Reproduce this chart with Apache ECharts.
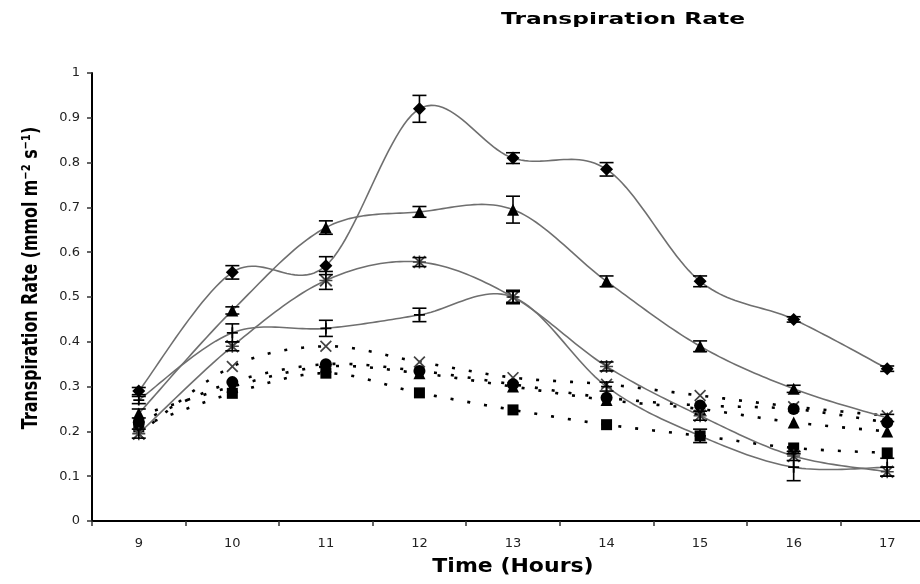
<!DOCTYPE html>
<html>
<head>
<meta charset="utf-8">
<script src="https://cdn.jsdelivr.net/npm/echarts@6/dist/echarts.min.js"></script>
<style>html,body{margin:0;padding:0;background:#fff;overflow:hidden}#c{width:934px;height:584px}</style>
</head>
<body>
<div id="c"></div>
<script>
const hours = ['9','10','11','12','13','14','15','16','17'];
const yTicks = ['0','0.1','0.2','0.3','0.4','0.5','0.6','0.7','0.8','0.9','1'];

// solid (smoothed) series with error bars
const diamondVals  = [0.29, 0.555, 0.57, 0.92, 0.81, 0.785, 0.535, 0.45, 0.34];
const diamondErr   = [0.008, 0.015, 0.02, 0.03, 0.012, 0.015, 0.012, 0.006, 0.006];
const triangleVals = [0.24, 0.47, 0.655, 0.69, 0.695, 0.535, 0.39, 0.295, 0.23];
const triangleErr  = [0.01, 0.008, 0.015, 0.012, 0.03, 0.012, 0.012, 0.008, 0.008];
const asteriskVals = [0.195, 0.39, 0.537, 0.578, 0.50, 0.345, 0.235, 0.145, 0.11];
const asteriskErr  = [0.01, 0.01, 0.02, 0.01, 0.015, 0.01, 0.01, 0.01, 0.01];
const plusVals     = [0.27, 0.42, 0.43, 0.46, 0.50, 0.30, 0.19, 0.12, 0.12];
const plusErr      = [0.008, 0.02, 0.018, 0.015, 0.012, 0.01, 0.015, 0.03, 0.02];

// dotted series
const crossDotted    = [0.195, 0.345, 0.39, 0.355, 0.32, 0.305, 0.28, 0.255, 0.235];
const circleDotted   = [0.22, 0.31, 0.35, 0.335, 0.305, 0.275, 0.258, 0.25, 0.22];
const triangleDotted = [0.235, 0.30, 0.345, 0.33, 0.30, 0.27, 0.25, 0.22, 0.20];
const squareDotted   = [0.21, 0.285, 0.33, 0.286, 0.248, 0.215, 0.19, 0.163, 0.152];

const X_PATH = 'path://M0,1 L1,0 L5,4 L9,0 L10,1 L6,5 L10,9 L9,10 L5,6 L1,10 L0,9 L4,5 Z';
const STAR_PATH = 'path://M0,1 L1,0 L5,4 L9,0 L10,1 L6,5 L10,9 L9,10 L5,6 L1,10 L0,9 L4,5 Z M4.4,0 L5.6,0 L5.6,10 L4.4,10 Z M0,4.4 L10,4.4 L10,5.6 L0,5.6 Z';
const PLUS_PATH = 'path://M4.2,0 L5.8,0 L5.8,4.2 L10,4.2 L10,5.8 L5.8,5.8 L5.8,10 L4.2,10 L4.2,5.8 L0,5.8 L0,4.2 L4.2,4.2 Z';

// Catmull-Rom curve through all points of the series (computed via the axis scales)
function curve(vals, stroke, width, dash, z) {
  return {
    type: 'custom', silent: true, z: z, clip: false,
    data: vals.map((v, i) => [i, v]),
    encode: {x: 0, y: 1},
    renderItem: function (params, api) {
      if (params.dataIndex !== 0) return null;
      const n = vals.length;
      const p = [];
      for (let j = 0; j < n; j++) p.push(api.coord([api.value(0, j), api.value(1, j)]));
      const pts = [];
      const steps = 24;
      for (let k = 0; k < n - 1; k++) {
        const p0 = p[Math.max(k - 1, 0)], p1 = p[k], p2 = p[k + 1], p3 = p[Math.min(k + 2, n - 1)];
        const c1 = [p1[0] + (p2[0] - p0[0]) / 6, p1[1] + (p2[1] - p0[1]) / 6];
        const c2 = [p2[0] - (p3[0] - p1[0]) / 6, p2[1] - (p3[1] - p1[1]) / 6];
        for (let s = (k === 0 ? 0 : 1); s <= steps; s++) {
          const t = s / steps, u = 1 - t;
          pts.push([
            u*u*u*p1[0] + 3*u*u*t*c1[0] + 3*u*t*t*c2[0] + t*t*t*p2[0],
            u*u*u*p1[1] + 3*u*u*t*c1[1] + 3*u*t*t*c2[1] + t*t*t*p2[1]
          ]);
        }
      }
      return {type: 'polyline', shape: {points: pts},
              style: {stroke: stroke, fill: null, lineWidth: width, lineDash: dash || null}};
    }
  };
}
function markers(vals, symbol, size, color) {
  return {
    type: 'line', data: vals, symbol: symbol, symbolSize: size, showSymbol: true,
    lineStyle: {opacity: 0, width: 0},
    itemStyle: {color: color || '#000'}, z: 6
  };
}
function errBars(vals, errs) {
  return {
    type: 'custom', silent: true, z: 7,
    data: vals.map((v, i) => [i, v - errs[i], v + errs[i]]),
    encode: {x: 0, y: [1, 2]},
    renderItem: function (params, api) {
      const lo = api.coord([api.value(0), api.value(1)]);
      const hi = api.coord([api.value(0), api.value(2)]);
      const w = 7;
      const st = {stroke: '#000', lineWidth: 1.6};
      return {type: 'group', children: [
        {type: 'line', shape: {x1: lo[0], y1: lo[1], x2: hi[0], y2: hi[1]}, style: st},
        {type: 'line', shape: {x1: lo[0] - w, y1: lo[1], x2: lo[0] + w, y2: lo[1]}, style: st},
        {type: 'line', shape: {x1: hi[0] - w, y1: hi[1], x2: hi[0] + w, y2: hi[1]}, style: st}
      ]};
    }
  };
}

const DOT = [3, 14];
const chart = echarts.init(document.getElementById('c'), null, {renderer: 'canvas'});
chart.setOption({
  animation: false,
  backgroundColor: '#fff',
  grid: {left: 92, right: 0, top: 73, bottom: 63},
  xAxis: {
    type: 'category', data: hours, boundaryGap: true,
    axisLine: {lineStyle: {color: '#000', width: 2}},
    axisTick: {show: true, length: 5, lineStyle: {color: '#333', width: 1.5}},
    axisLabel: {margin: 16, color: '#222', fontSize: 13, fontFamily: 'DejaVu Sans'},
    splitLine: {show: false}
  },
  yAxis: {
    type: 'value', min: 0, max: 1, interval: 0.1,
    axisLine: {show: true, lineStyle: {color: '#000', width: 2}},
    axisTick: {show: true, length: 5, lineStyle: {color: '#333', width: 1.5}},
    axisLabel: {margin: 12, color: '#222', fontSize: 13, fontFamily: 'DejaVu Sans',
      formatter: function (v) { return yTicks[Math.round(v * 10)]; }},
    splitLine: {show: false}
  },
  graphic: [
    {type: 'text', x: 623, y: 20, scaleX: 1.46, scaleY: 1,
     style: {text: 'Transpiration Rate', font: 'bold 16px "DejaVu Sans"', fill: '#000',
             textAlign: 'center', textVerticalAlign: 'middle', align: 'center', verticalAlign: 'middle'}},
    {type: 'text', x: 513, y: 567, scaleX: 1.1, scaleY: 1,
     style: {text: 'Time (Hours)', font: 'bold 20px "DejaVu Sans"', fill: '#000',
             textAlign: 'center', textVerticalAlign: 'middle', align: 'center', verticalAlign: 'middle'}},
    {type: 'text', x: 31, y: 278, rotation: Math.PI / 2, scaleX: 0.88, scaleY: 1.2,
     style: {text: 'Transpiration Rate (mmol m\u207B\u00B2 s\u207B\u00B9)', font: 'bold 18px "DejaVu Sans"', fill: '#000',
             textAlign: 'center', textVerticalAlign: 'middle', align: 'center', verticalAlign: 'middle'}}
  ],
  series: [
    curve(crossDotted, '#000', 2.6, DOT, 3),
    curve(triangleDotted, '#000', 2.6, DOT, 3),
    curve(circleDotted, '#000', 2.6, DOT, 3),
    curve(squareDotted, '#000', 2.6, DOT, 3),
    curve(plusVals, '#6f6f6f', 1.6, null, 4),
    curve(asteriskVals, '#6f6f6f', 1.6, null, 4),
    curve(triangleVals, '#6f6f6f', 1.6, null, 4),
    curve(diamondVals, '#6f6f6f', 1.6, null, 4),
    markers(crossDotted, X_PATH, 12, '#444'),
    markers(triangleDotted, 'triangle', 12),
    markers(circleDotted, 'circle', 12),
    markers(squareDotted, 'rect', 11),
    markers(plusVals, PLUS_PATH, 11),
    markers(asteriskVals, STAR_PATH, 13, '#444'),
    markers(triangleVals, 'triangle', 12),
    markers(diamondVals, 'diamond', 13),
    errBars(plusVals, plusErr),
    errBars(asteriskVals, asteriskErr),
    errBars(triangleVals, triangleErr),
    errBars(diamondVals, diamondErr)
  ]
});
</script>
</body>
</html>
